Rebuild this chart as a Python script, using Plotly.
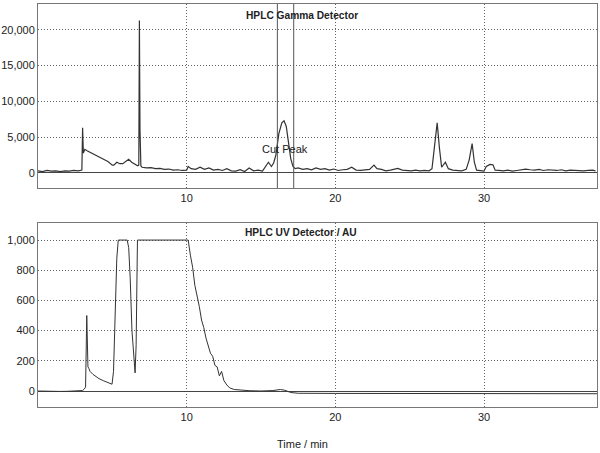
import plotly.graph_objects as go

# gamma detector trace (time in min, counts)
gamma_t = [0.0, 0.3, 0.6, 0.9, 1.2, 1.5, 1.8, 2.1, 2.4, 2.7, 2.95, 3.0, 3.05, 3.15, 3.3, 3.5, 3.8, 4.1,
           4.4, 4.7, 5.0, 5.1, 5.3, 5.5, 5.7, 5.9, 6.1, 6.3, 6.5, 6.7, 6.78, 6.82, 6.86, 6.92, 7.0, 7.3,
           7.6, 7.9, 8.2, 8.5, 8.8, 9.1, 9.4, 9.7, 10.0, 10.1, 10.3, 10.6, 10.9, 11.2, 11.5, 11.8, 12.1,
           12.4, 12.7, 13.0, 13.3, 13.6, 13.9, 14.2, 14.5, 14.8, 15.1, 15.3, 15.5, 15.7, 15.85, 16.0,
           16.2, 16.4, 16.55, 16.7, 16.85, 17.0, 17.15, 17.3, 17.5, 17.8, 18.1, 18.4, 18.7, 19.0, 19.3,
           19.6, 19.9, 20.2, 20.5, 20.8, 21.1, 21.4, 21.7, 22.0, 22.3, 22.6, 22.8, 23.1, 23.4, 23.7,
           24.0, 24.2, 24.5, 24.8, 25.1, 25.4, 25.7, 26.0, 26.3, 26.5, 26.7, 26.85, 27.0, 27.15, 27.4,
           27.6, 27.9, 28.2, 28.5, 28.8, 29.0, 29.2, 29.35, 29.5, 29.8, 30.0, 30.15, 30.4, 30.6, 30.75,
           31.0, 31.3, 31.6, 31.9, 32.2, 32.5, 32.8, 33.1, 33.4, 33.7, 34.0, 34.3, 34.6, 34.9, 35.2,
           35.5, 35.8, 36.1, 36.4, 36.7, 37.0, 37.3, 37.5]
gamma_y = [300, 200, 350, 250, 300, 200, 300, 250, 350, 300, 400, 6300, 2800, 3300, 3100, 2900, 2600, 2300,
           2000, 1600, 1100, 1100, 1500, 1300, 1300, 1600, 1900, 1500, 1200, 1000, 1100, 21300, 6000, 1000, 800, 700,
           750, 600, 650, 500, 550, 400, 450, 350, 400, 900, 600, 500, 800, 500, 700, 400, 500,
           350, 600, 300, 250, 450, 200, 700, 300, 400, 250, 800, 1500, 900, 1400, 2500,
           5500, 7000, 7300, 6500, 4500, 2000, 900, 600, 700, 500, 600, 450, 700, 500, 600,
           400, 550, 350, 450, 500, 800, 400, 350, 400, 500, 1100, 600, 500, 300, 400,
           550, 650, 400, 350, 300, 400, 300, 350, 300, 600, 4000, 7000, 3500, 800, 1500,
           600, 400, 350, 300, 500, 1800, 4100, 1500, 400, 300, 250, 900, 1200, 1150, 400,
           350, 300, 400, 250, 350, 500, 550, 450, 400, 500, 350, 450, 400, 350, 450,
           300, 400, 350, 400, 300, 350, 400, 300]

# UV detector trace (time in min, AU)
uv_t = [0.0, 0.5, 1.0, 1.5, 2.0, 2.5, 3.0, 3.1, 3.2, 3.28, 3.36, 3.42, 3.5, 3.7, 3.9, 4.1, 4.4, 4.7,
        4.98, 5.08, 5.18, 5.3, 5.4, 5.48, 5.7, 6.0, 6.1, 6.2, 6.32, 6.45, 6.53, 6.6, 6.65, 6.69, 7.5,
        8.5, 9.5, 10.1, 10.25, 10.4, 10.55, 10.7, 10.85, 11.0, 11.15, 11.3, 11.45, 11.6, 11.75, 11.9,
        12.05, 12.2, 12.35, 12.5, 12.7, 12.9, 13.2, 13.6, 14.2, 15.0, 15.8, 16.3, 16.6, 17.0, 17.5,
        20.0, 25.0, 30.0, 35.0, 37.6]
uv_y = [0, -2, 0, -3, -2, 0, 3, 12, 25, 500, 160, 150, 130, 110, 95, 82, 68, 55,
        45, 130, 450, 880, 1000, 1000, 1000, 1000, 950, 750, 400, 220, 120, 300, 700, 1000, 1000,
        1000, 1000, 1000, 900, 820, 700, 640, 560, 470, 420, 350, 300, 250, 230, 170,
        160, 100, 130, 70, 40, 20, 10, 5, 2, 0, 3, 10, 5, -10, -15,
        -16, -16, -17, -18, -18]

cut_start, cut_end = 16.1, 17.2
x_ticks = [10, 20, 30]
gamma_ticks = [0, 5000, 10000, 15000, 20000]
uv_ticks = [0, 200, 400, 600, 800, 1000]

FONT = "Liberation Sans, Arial, sans-serif"
line_col = "#333333"

fig = go.Figure()
fig.add_scatter(x=gamma_t, y=gamma_y, mode="lines", line=dict(color=line_col, width=1.2),
                xaxis="x", yaxis="y", showlegend=False)
fig.add_scatter(x=uv_t, y=uv_y, mode="lines", line=dict(color=line_col, width=1),
                xaxis="x2", yaxis="y2", showlegend=False)

for x0 in (cut_start, cut_end):
    fig.add_shape(type="line", xref="x", yref="y domain", x0=x0, x1=x0, y0=0, y1=1,
                  line=dict(color="#555555", width=1))

ax = dict(range=[0, 37.6], tickvals=x_ticks, showgrid=True, gridcolor="#666666", griddash="1px,2px",
          gridwidth=1, showline=True, mirror=True, linecolor="#777777", linewidth=1,
          zeroline=False, ticks="", automargin=False,
          tickfont=dict(size=11, color="#222222"))
ay = dict(showgrid=True, gridcolor="#666666", griddash="1px,2px", gridwidth=1, showline=True,
          mirror=True, linecolor="#777777", linewidth=1, zeroline=True, zerolinecolor="#444444",
          zerolinewidth=1, ticks="", automargin=False, tickformat=",",
          tickfont=dict(size=11, color="#222222"))

fig.update_layout(
    width=600, height=453,
    margin=dict(l=38, r=3, t=4, b=46),
    paper_bgcolor="white", plot_bgcolor="white",
    font=dict(family=FONT, color="#222222"),
    xaxis=dict(ax, domain=[0, 1], anchor="y"),
    yaxis=dict(ay, domain=[0.5434, 1], range=[-2100, 23600], tickvals=gamma_ticks, anchor="x"),
    xaxis2=dict(ax, domain=[0, 1], anchor="y2"),
    yaxis2=dict(ay, domain=[0, 0.4566], range=[-106, 1113], tickvals=uv_ticks, anchor="x2"),
)

fig.add_annotation(text="<b>HPLC Gamma Detector</b>", xref="paper", yref="paper", x=0.472, y=0.9727,
                   yanchor="middle", showarrow=False, font=dict(size=10.2))
fig.add_annotation(text="<b>HPLC UV Detector / AU</b>", xref="paper", yref="paper", x=0.4705, y=0.4318,
                   yanchor="middle", showarrow=False, font=dict(size=10.2))
fig.add_annotation(text="Cut Peak", xref="x", yref="y", x=16.6, y=3350, yanchor="middle",
                   showarrow=False, font=dict(size=11))
fig.add_annotation(text="Time / min", xref="paper", yref="paper", x=0.473, y=-0.0918,
                   yanchor="middle", showarrow=False, font=dict(size=11))

fig.write_html("out.html", config={"displayModeBar": False},
               post_script="document.body.style.margin='0';")
